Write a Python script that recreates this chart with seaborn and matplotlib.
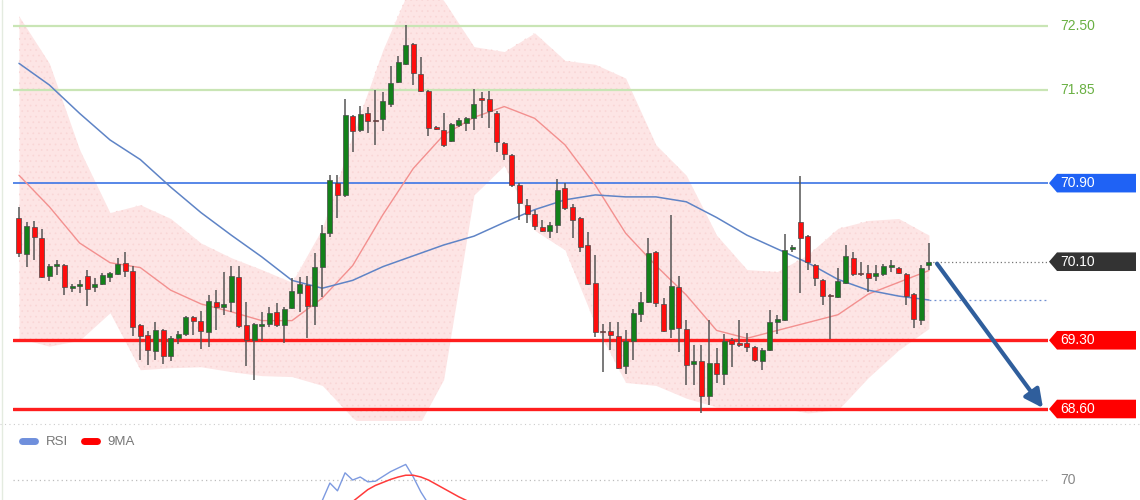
import matplotlib
matplotlib.use("Agg")
import numpy as np
import pandas as pd
import matplotlib.pyplot as plt
import matplotlib.transforms as mtransforms
from matplotlib.patches import Polygon
from matplotlib.lines import Line2D
import seaborn as sns

# --- velas (precios) ---
opens = [70.54, 70.18, 70.45, 70.34, 69.95, 70.06, 70.07, 69.83, 69.85, 69.95,
         69.84, 69.87, 69.94, 69.97, 70.09, 70.01, 69.46, 69.35, 69.19, 69.40,
         69.14, 69.32, 69.36, 69.54, 69.50, 69.38, 69.69, 69.64, 69.69, 69.94,
         69.46, 69.30, 69.45, 69.47, 69.59, 69.46, 69.63, 69.78, 69.86, 69.65,
         70.05, 70.39, 70.90, 70.78, 71.58, 71.44, 71.61, 71.54, 71.55, 71.71,
         71.93, 72.11, 72.32, 72.01, 71.84, 71.47, 71.44, 71.33, 71.49, 71.51,
         71.56, 71.76, 71.76, 71.61, 71.31, 71.19, 70.88, 70.68, 70.59, 70.45,
         70.41, 70.47, 70.85, 70.66, 70.54, 70.27, 69.88, 69.39, 69.39, 69.34,
         69.04, 69.29, 69.57, 69.69, 70.20, 69.67, 69.41, 69.84, 69.41, 69.06,
         69.09, 68.73, 69.07, 68.96, 69.30, 69.27, 69.27, 69.23, 69.09, 69.20,
         69.49, 69.51, 70.23, 70.50, 70.36, 70.07, 69.91, 69.76, 69.74, 69.88,
         70.14, 69.98, 69.98, 69.95, 69.97, 70.05, 70.04, 69.97, 69.77, 69.51,
         70.07]
highs = [70.66, 70.50, 70.51, 70.43, 70.08, 70.12, 70.08, 69.87, 69.91, 70.02,
         69.93, 69.98, 70.00, 70.14, 70.20, 70.06, 69.47, 69.39, 69.49, 69.41,
         69.34, 69.39, 69.55, 69.55, 69.60, 69.76, 69.81, 70.00, 70.06, 70.06,
         69.69, 69.48, 69.59, 69.64, 69.68, 69.64, 69.93, 69.94, 69.95, 70.19,
         70.47, 70.98, 70.98, 71.76, 71.59, 71.69, 71.68, 71.85, 71.83, 72.09,
         72.19, 72.51, 72.33, 72.18, 71.85, 71.48, 71.61, 71.51, 71.56, 71.57,
         71.86, 71.83, 71.84, 71.63, 71.32, 71.20, 70.90, 70.74, 70.63, 70.52,
         70.50, 70.94, 70.90, 70.69, 70.56, 70.40, 70.17, 69.47, 69.49, 69.49,
         69.40, 69.62, 69.79, 70.34, 70.21, 69.73, 70.58, 69.95, 69.51, 69.25,
         69.25, 69.51, 69.22, 69.36, 69.32, 69.51, 69.37, 69.24, 69.22, 69.61,
         69.56, 70.38, 70.27, 70.97, 70.37, 70.08, 69.92, 69.77, 70.04, 70.27,
         70.20, 70.10, 70.07, 70.07, 70.08, 70.12, 70.05, 69.98, 69.78, 70.07,
         70.29]
lows = [70.15, 70.05, 70.12, 69.93, 69.90, 69.96, 69.76, 69.79, 69.78, 69.65,
        69.79, 69.86, 69.89, 69.96, 69.94, 69.34, 69.10, 69.05, 69.10, 69.06,
        69.09, 69.26, 69.34, 69.35, 69.21, 69.23, 69.40, 69.56, 69.59, 69.42,
        69.04, 68.90, 69.29, 69.44, 69.43, 69.27, 69.62, 69.59, 69.32, 69.46,
        69.74, 70.35, 70.54, 70.76, 71.22, 71.42, 71.41, 71.29, 71.43, 71.68,
        71.92, 72.10, 71.90, 71.83, 71.38, 71.44, 71.27, 71.32, 71.47, 71.43,
        71.44, 71.56, 71.46, 71.22, 71.14, 70.86, 70.52, 70.49, 70.42, 70.40,
        70.34, 70.39, 70.63, 70.34, 70.20, 69.86, 69.33, 68.98, 69.20, 69.01,
        68.96, 69.10, 69.49, 69.68, 69.64, 69.38, 69.32, 69.18, 68.84, 68.84,
        68.56, 68.64, 68.86, 68.84, 69.03, 69.23, 69.18, 69.08, 69.00, 69.19,
        69.36, 69.50, 70.20, 69.78, 70.02, 69.85, 69.66, 69.31, 69.73, 69.87,
        69.95, 69.95, 69.79, 69.90, 69.95, 70.00, 69.97, 69.66, 69.42, 69.46,
        70.02]
closes = [70.19, 70.46, 70.35, 69.94, 70.06, 70.08, 69.84, 69.85, 69.87, 69.82,
          69.87, 69.96, 69.98, 70.08, 70.01, 69.44, 69.34, 69.20, 69.40, 69.14,
          69.32, 69.36, 69.54, 69.50, 69.39, 69.70, 69.64, 69.67, 69.95, 69.45,
          69.30, 69.47, 69.47, 69.58, 69.46, 69.62, 69.80, 69.87, 69.65, 70.05,
          70.39, 70.93, 70.78, 71.59, 71.43, 71.60, 71.53, 71.53, 71.74, 71.92,
          72.13, 72.31, 72.02, 71.84, 71.46, 71.45, 71.29, 71.50, 71.54, 71.56,
          71.71, 71.75, 71.63, 71.32, 71.20, 70.88, 70.70, 70.59, 70.46, 70.41,
          70.47, 70.83, 70.65, 70.52, 70.25, 69.87, 69.38, 69.38, 69.35, 69.02,
          69.29, 69.58, 69.69, 70.19, 69.68, 69.39, 69.85, 69.42, 69.05, 69.09,
          68.73, 69.07, 68.96, 69.29, 69.26, 69.25, 69.23, 69.10, 69.20, 69.49,
          69.52, 70.22, 70.25, 70.34, 70.10, 69.93, 69.75, 69.75, 69.90, 70.16,
          69.97, 69.97, 69.93, 69.98, 70.06, 70.07, 69.98, 69.75, 69.52, 70.04,
          70.10]

# --- bandas de Bollinger y medias (leídas cada 4 velas) ---
band_idx = list(range(0, 121, 4))
band_up = [72.60, 72.12, 71.24, 70.60, 70.68, 70.54, 70.29, 70.14, 70.02, 69.89,
           70.44, 71.39, 72.26, 72.97, 72.76, 72.29, 72.24, 72.43, 72.15, 72.11,
           71.97, 71.29, 70.98, 70.37, 70.02, 70.00, 70.17, 70.44, 70.52, 70.54,
           70.37]
band_lo = [69.32, 69.24, 69.30, 69.58, 69.00, 69.02, 69.03, 68.98, 68.94, 68.93,
           68.84, 68.51, 68.28, 68.33, 68.90, 70.78, 71.08, 70.42, 70.22, 69.46,
           68.87, 68.84, 68.71, 68.62, 68.62, 68.62, 68.56, 68.59, 68.92, 69.20,
           69.42]
band_mid = [70.98, 70.66, 70.29, 70.09, 70.04, 69.81, 69.67, 69.59, 69.50, 69.50,
            69.73, 70.06, 70.58, 71.05, 71.39, 71.57, 71.68, 71.56, 71.29, 70.88,
            70.39, 70.06, 69.76, 69.40, 69.32, 69.40, 69.48, 69.56, 69.77, 69.89,
            70.01]
ma_slow = [72.12, 71.90, 71.61, 71.34, 71.14, 70.86, 70.60, 70.37, 70.15, 69.91,
           69.83, 69.91, 70.05, 70.16, 70.27, 70.36, 70.50, 70.63, 70.73, 70.78,
           70.76, 70.76, 70.71, 70.55, 70.37, 70.23, 70.09, 69.92, 69.81, 69.75,
           69.71]

# --- niveles ---
green_levels = [72.50, 71.85]
blue_level = 70.90
last_price = 70.10
red_levels = [69.30, 68.60]
target_price = 68.61

# --- RSI (solo el tramo visible) ---
rsi_idx = [39, 40, 41, 42, 43, 44, 45, 46, 47, 48, 49, 50, 51, 52, 53, 54, 55]
rsi_val = [45, 53, 67.5, 61, 76, 70, 72.5, 68.5, 69, 73, 77, 80, 83, 72.5, 60, 50, 45]
ma9_idx = [43, 44, 45, 46, 47, 48, 49, 50, 51, 52, 53, 54, 55, 56, 57, 58, 59, 60]
ma9_val = [45, 52, 57, 62, 65.5, 68, 70.5, 72.5, 74, 74, 72.5, 70, 66.5, 63, 59.5, 56, 53, 49]

df = pd.DataFrame({"open": opens, "high": highs, "low": lows, "close": closes})
df["idx"] = np.arange(len(df))
df["up"] = df["close"] >= df["open"]
df["bottom"] = df[["open", "close"]].min(axis=1)
df["height"] = (df["close"] - df["open"]).abs().clip(lower=0.014)

sns.set_theme(style="white")
plt.rcParams["font.family"] = ["Liberation Sans", "DejaVu Sans"]
plt.rcParams["hatch.linewidth"] = 0.5

W, H = 1140, 500
fig = plt.figure(figsize=(W / 100, H / 100), dpi=100)
ax = fig.add_axes([13 / W, 80 / H, 1035 / W, 420 / H])
ax.set_xlim(-0.79, 135.7)
ax.set_ylim(68.488, 72.765)

# banda
ax.fill_between(band_idx, band_lo, band_up, color="#fde5e5", lw=0, zorder=1)
ax.fill_between(band_idx, band_lo, band_up, facecolor="none", edgecolor="#f9d6d6",
                hatch="...", lw=0, zorder=1)

for lv in green_levels:
    ax.axhline(lv, color="#c9e5b5", lw=1.6, zorder=2)
ax.axhline(blue_level, color="#4a7ee6", lw=1.3, zorder=2)
for lv in red_levels:
    ax.axhline(lv, color="#ff1e1e", lw=2.4, zorder=2)

sns.lineplot(x=band_idx, y=band_mid, color="#f3908f", lw=1.0, ax=ax, zorder=2.5)
sns.lineplot(x=band_idx, y=ma_slow, color="#5f84c6", lw=1.1, ax=ax, zorder=2.5)

# velas
ax.vlines(df["idx"], df["low"], df["high"], color="#555555", lw=1.1, zorder=3)
ax.bar(df["idx"], df["height"], bottom=df["bottom"], width=0.66,
       color=np.where(df["up"], "#13811a", "#ff0d0d"), edgecolor="#4a4a4a",
       lw=0.5, zorder=4)

# líneas punteadas hasta las etiquetas
ax.hlines(last_price, df["idx"].iloc[-1], 135.7, colors="#777777",
          linestyles=(0, (1, 2)), lw=0.9, zorder=2)
ax.hlines(ma_slow[-1], band_idx[-1], 135.7, colors="#6f8fd0",
          linestyles=(0, (1.5, 2.5)), lw=0.9, zorder=2)

# etiquetas de precio
tr = mtransforms.blended_transform_factory(fig.transFigure, ax.transData)
dh = 9.3 / 98.2
x_tip, x_box, x_end, x_txt = 1049 / W, 1057 / W, 1136 / W, 1060 / W


def tag(price, color):
    pts = [(x_tip, price), (x_box, price + dh), (x_end, price + dh),
           (x_end, price - dh), (x_box, price - dh)]
    ax.add_patch(Polygon(pts, closed=True, transform=tr, facecolor=color,
                         edgecolor="none", clip_on=False, zorder=6))
    ax.text(x_txt, price, f"{price:.2f}", transform=tr, color="white",
            fontsize=10, va="center", ha="left", clip_on=False, zorder=7)


for lv in green_levels:
    ax.text(x_txt, lv, f"{lv:.2f}", transform=tr, color="#6ab043",
            fontsize=10, va="center", ha="left", clip_on=False)
tag(blue_level, "#1f62f5")
tag(last_price, "#333333")
for lv in red_levels:
    tag(lv, "#ff0000")

# flecha
ax.annotate("", xy=(135.04, target_price), xytext=(121.06, last_price - 0.02),
            arrowprops=dict(arrowstyle="-|>,head_length=0.9,head_width=0.45",
                            color="#2f5e9c", lw=3.0, shrinkA=0, shrinkB=0),
            annotation_clip=False, zorder=8)

ax.set_axis_off()

# panel RSI
ax2 = fig.add_axes([13 / W, -100 / H, 1035 / W, 170 / H])
ax2.set_xlim(-0.79, 135.7)
ax2.set_ylim(-30, 111.7)
ax2.patch.set_visible(False)
ax2.axhline(70, color="#bdbdbd", ls=(0, (1, 2.5)), lw=0.9)
sns.lineplot(x=rsi_idx, y=rsi_val, color="#7d9ae0", lw=1.0, ax=ax2)
sns.lineplot(x=ma9_idx, y=ma9_val, color="#ff3a3a", lw=1.1, ax=ax2)
tr2 = mtransforms.blended_transform_factory(fig.transFigure, ax2.transData)
ax2.text(x_txt, 70, "70", transform=tr2, color="#888888", fontsize=10,
         va="center", ha="left", clip_on=False)
handles = [Line2D([], [], color="#6f8fdc", lw=5), Line2D([], [], color="#ff0000", lw=5)]
ax2.legend(handles, ["RSI", "9MA"], loc="center left",
           bbox_to_anchor=(10 / W, 58 / H), bbox_transform=fig.transFigure,
           frameon=False, ncol=2, handlelength=1.0, handletextpad=0.8,
           columnspacing=1.2, fontsize=9.5, labelcolor="#777777")
ax2.set_axis_off()

# separador y borde
fig.add_artist(Line2D([0, 1], [76 / H, 76 / H], transform=fig.transFigure,
                      color="#cccccc", ls=(0, (1, 3)), lw=0.8))
fig.add_artist(Line2D([2 / W, 2 / W], [0, 1], transform=fig.transFigure,
                      color="#e4ebe0", lw=1.0))

fig.savefig("out.png", dpi=100)
